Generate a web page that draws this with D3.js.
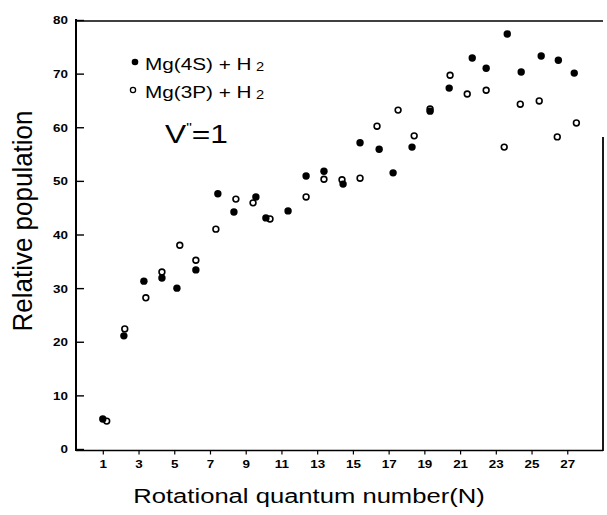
<!DOCTYPE html>
<html><head><meta charset="utf-8">
<script src="https://cdn.jsdelivr.net/npm/d3@7"></script>
<style>html,body{margin:0;padding:0;background:#fff;}svg{display:block;}</style>
</head><body>
<script>
// ---- data ----
const seriesNames = ["Mg(4S) + H", "Mg(3P) + H"];
const N4S   = [1.00,2.18,3.30,4.31,5.15,6.21,7.44,8.34,9.57,10.13,11.37,12.38,13.38,14.45,15.40,16.47,17.25,18.31,19.32,20.39,21.68,22.46,23.64,24.42,25.54,26.50,27.39];
const pop4S = [5.6,21.1,31.3,31.9,30.0,33.4,47.6,44.2,47.0,43.1,44.4,50.9,51.8,49.4,57.1,55.9,51.5,56.3,63.0,67.3,72.9,71.0,77.4,70.3,73.3,72.5,70.1];
const N3P   = [1.22,2.23,3.41,4.31,5.31,6.21,7.33,8.45,9.41,10.36,12.38,13.38,14.39,15.40,16.35,17.53,18.43,19.32,20.44,21.40,22.46,23.47,24.37,25.43,26.44,27.51];
const pop3P = [5.2,22.4,28.2,33.0,38.0,35.2,41.0,46.6,45.9,42.9,47.0,50.3,50.2,50.5,60.2,63.2,58.4,63.4,69.7,66.2,66.9,56.3,64.3,64.9,58.2,60.8];
const xTicks = [1,3,5,7,9,11,13,15,17,19,21,23,25,27];
const yTicks = [0,10,20,30,40,50,60,70,80];
const xTitle = "Rotational quantum number(N)";
const yTitle = "Relative population";

const W = 607, H = 515;
const FONT = "'Liberation Sans', Arial, Helvetica, sans-serif";
const SX = 1.22; // horizontal stretch of the scanned text

const svg = d3.select("body").append("svg").attr("width", W).attr("height", H)
  .style("font-family", FONT);

const x = d3.scaleLinear().domain([-0.5, 29.0]).range([76, 603]);
const y = d3.scaleLinear().domain([0, 80]).range([449, 20]);

// frame
const frame = svg.append("g").attr("stroke", "#000").attr("fill", "none");
frame.append("line").attr("x1", 76).attr("x2", 76).attr("y1", 19).attr("y2", 451).attr("stroke-width", 2);
frame.append("line").attr("x1", 76).attr("x2", 603).attr("y1", 21).attr("y2", 21).attr("stroke-width", 1.6);
frame.append("line").attr("x1", 76).attr("x2", 603).attr("y1", 450.5).attr("y2", 450.5).attr("stroke-width", 1.6);
frame.append("line").attr("x1", 603).attr("x2", 603).attr("y1", 137).attr("y2", 451).attr("stroke-width", 1.8);

// y axis (ticks inward)
const ya = svg.append("g").attr("transform", "translate(76,0)")
  .call(d3.axisLeft(y).tickValues(yTicks).tickSizeInner(-8).tickSizeOuter(0).tickFormat(d3.format("d")));
ya.select(".domain").remove();
ya.selectAll(".tick line").attr("stroke-width", 1.4);
ya.selectAll(".tick text").attr("x", null).attr("dy", "0.36em")
  .attr("transform", `translate(-8,0) scale(${SX},1)`)
  .attr("text-anchor", "end").style("font-family", FONT)
  .style("font-size", "11px").style("font-weight", "bold");

// x axis (short ticks outward)
const xa = svg.append("g").attr("transform", "translate(0,450.5)")
  .call(d3.axisBottom(x).tickValues(xTicks).tickSizeInner(4).tickSizeOuter(0).tickFormat(d3.format("d")));
xa.select(".domain").remove();
xa.selectAll(".tick line").attr("stroke-width", 1.2);
xa.selectAll(".tick text").attr("y", null).attr("dy", null)
  .attr("transform", `translate(0,17) scale(${SX},1)`)
  .style("font-family", FONT).style("font-size", "11px").style("font-weight", "bold");

// points
svg.append("g").selectAll("circle").data(N3P.map((n, i) => [n, pop3P[i]])).join("circle")
  .attr("cx", d => x(d[0])).attr("cy", d => y(d[1])).attr("r", 2.9)
  .attr("fill", "#fff").attr("stroke", "#000").attr("stroke-width", 1.6);
svg.append("g").selectAll("circle").data(N4S.map((n, i) => [n, pop4S[i]])).join("circle")
  .attr("cx", d => x(d[0])).attr("cy", d => y(d[1])).attr("r", 3.7)
  .attr("fill", "#000");

// stretched text helper
function stext(px, py, str, size, anchor) {
  const g = svg.append("g").attr("transform", `translate(${px},${py}) scale(${SX},1)`);
  return g.append("text").attr("text-anchor", anchor || "start")
    .style("font-size", size + "px").text(str);
}

// legend
svg.append("circle").attr("cx", 135).attr("cy", 62).attr("r", 3.3).attr("fill", "#000");
svg.append("circle").attr("cx", 133).attr("cy", 90).attr("r", 2.6).attr("fill", "#fff")
  .attr("stroke", "#000").attr("stroke-width", 1.3);
[[seriesNames[0], 70], [seriesNames[1], 98]].forEach(([s, by]) => {
  const t = stext(145, by, s, 17);
  t.append("tspan").attr("dx", "0.3em").attr("dy", 1).style("font-size", "12px").text("2");
});

// V''=1
{
  const t = stext(165, 143, "V", 26);
  t.append("tspan").attr("dy", -11).style("font-size", "13px").attr("dx", 0).text("\"");
  t.append("tspan").attr("dy", 11).attr("dx", 0).text("=1");
}

// axis titles
stext(309, 503, xTitle, 21, "middle");
svg.append("g").attr("transform", `translate(32,221) scale(1.08,1) rotate(-90)`)
  .append("text").attr("text-anchor", "middle").style("font-size", "26px").text(yTitle);
</script>
</body></html>
